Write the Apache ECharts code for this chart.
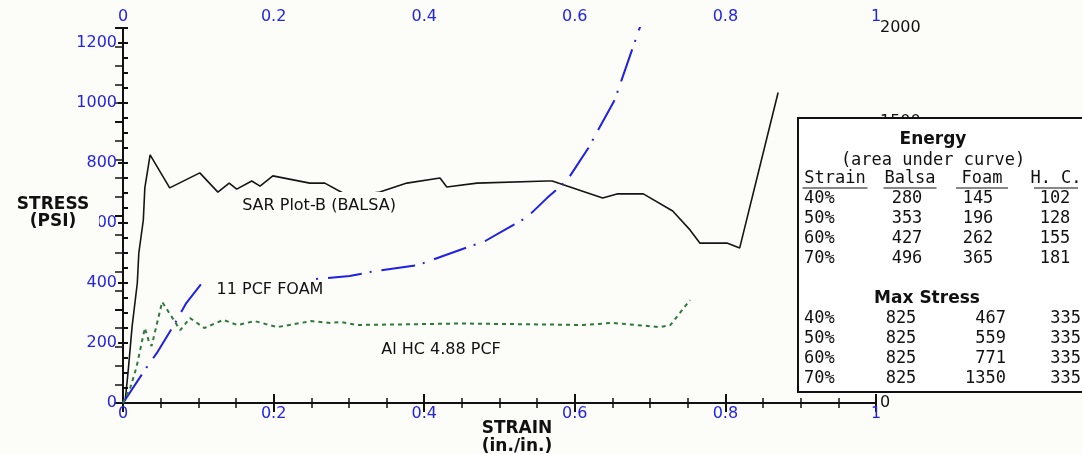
<!DOCTYPE html>
<html>
<head>
<meta charset="utf-8">
<script src="https://cdn.jsdelivr.net/npm/echarts@6/dist/echarts.min.js"></script>
<style>
  html, body { margin: 0; padding: 0; background: #fcfcf9; }
  #chart { width: 1082px; height: 454px; }
</style>
</head>
<body>
<div id="chart"></div>
<script>
// curves (strain in in./in., stress in PSI)
const balsaStrain = [0, 0.003, 0.007, 0.012, 0.019, 0.021, 0.027, 0.029, 0.036, 0.062, 0.102, 0.126, 0.141, 0.151, 0.171, 0.182, 0.199, 0.248, 0.268, 0.292, 0.326, 0.341, 0.377, 0.421, 0.430, 0.470, 0.563, 0.570, 0.637, 0.656, 0.691, 0.730, 0.753, 0.766, 0.802, 0.819, 0.870];
const balsaStress = [0, 10, 110, 253, 400, 500, 610, 717, 827, 717, 767, 703, 733, 713, 740, 723, 757, 733, 733, 700, 697, 703, 733, 750, 720, 733, 740, 740, 683, 697, 697, 640, 577, 533, 533, 517, 1035];

const foamStrain = [0, 0.029, 0.045, 0.070, 0.084, 0.105, 0.255, 0.301, 0.335, 0.392, 0.425, 0.481, 0.511, 0.537, 0.563, 0.590, 0.618, 0.631, 0.653, 0.676, 0.700];
const foamStress = [0, 110, 167, 270, 333, 400, 413, 423, 440, 460, 490, 540, 583, 620, 683, 743, 850, 910, 1010, 1177, 1350];

const hcStrain = [0, 0.010, 0.018, 0.029, 0.035, 0.038, 0.052, 0.064, 0.076, 0.089, 0.108, 0.133, 0.152, 0.175, 0.205, 0.250, 0.275, 0.290, 0.310, 0.370, 0.450, 0.550, 0.610, 0.650, 0.713, 0.727, 0.753];
const hcStress = [0, 53, 120, 250, 200, 190, 337, 290, 243, 283, 250, 277, 260, 273, 253, 273, 267, 270, 260, 262, 265, 262, 260, 267, 253, 260, 343];

// table in the box
const strainLevels = ['40%', '50%', '60%', '70%'];
const energyHeader = ['Strain', 'Balsa', 'Foam', 'H. C.'];
const energyBalsa = [280, 353, 427, 496];
const energyFoam = [145, 196, 262, 365];
const energyHC = [102, 128, 155, 181];
const maxBalsa = [825, 825, 825, 825];
const maxFoam = [467, 559, 771, 1350];
const maxHC = [335, 335, 335, 335];

const BLUE = '#2323e8';
const BG = '#fcfcf9';
const tableFont = '17px "DejaVu Sans Mono"';
const titleFont = 'bold 17px "DejaVu Sans"';

function pairs(xs, ys) {
  return xs.map((x, i) => [x, ys[i]]);
}

function txt(text, x, y, opts) {
  return {
    type: 'text',
    z: 100,
    style: Object.assign({
      text: text, x: x, y: y,
      fill: '#111',
      font: tableFont,
      textAlign: 'center',
      textVerticalAlign: 'middle'
    }, opts || {})
  };
}

function patch(x, y, w, h) {
  return { type: 'rect', z: 95, shape: { x: x, y: y, width: w, height: h }, style: { fill: BG } };
}

const chart = echarts.init(document.getElementById('chart'));

// box + table
const graphics = [
  { type: 'rect', z: 90, shape: { x: 798, y: 118, width: 300, height: 274 },
    style: { fill: '#fff', stroke: '#111', lineWidth: 2 } },
  txt('Energy', 933, 140, { font: titleFont }),
  txt('(area under curve)', 933, 161),
  txt('Max Stress', 927, 299, { font: titleFont })
];
const headerX = [835, 910, 982, 1056];
const headerW = [65, 53, 52, 44];
energyHeader.forEach((h, i) => {
  graphics.push(txt(h, headerX[i], 179));
  graphics.push({ type: 'line', z: 100,
    shape: { x1: headerX[i] - headerW[i] / 2, y1: 188, x2: headerX[i] + headerW[i] / 2, y2: 188 },
    style: { stroke: '#111', lineWidth: 1.2 } });
});
strainLevels.forEach((s, i) => {
  const ey = 199 + i * 20;
  graphics.push(txt(s, 804, ey, { textAlign: 'left' }));
  graphics.push(txt(String(energyBalsa[i]), 907, ey));
  graphics.push(txt(String(energyFoam[i]), 978, ey));
  graphics.push(txt(String(energyHC[i]), 1055, ey));
  const my = 319 + i * 19.7;
  graphics.push(txt(s, 804, my, { textAlign: 'left' }));
  graphics.push(txt(String(maxBalsa[i]), 901, my));
  graphics.push(txt(String(maxFoam[i]), 1006, my, { textAlign: 'right' }));
  graphics.push(txt(String(maxHC[i]), 1081, my, { textAlign: 'right' }));
});

// axis titles (the patch hides part of the 600 label like the original)
graphics.push(patch(4, 193, 95, 38));
graphics.push(txt('STRESS', 53, 205, { font: titleFont }));
graphics.push(txt('(PSI)', 53, 222, { font: titleFont }));
graphics.push(txt('STRAIN', 517, 429, { font: titleFont }));
graphics.push(txt('(in./in.)', 517, 447, { font: titleFont }));

// curve labels, with patches that hide the lines behind them
const labelFont = '16px "DejaVu Sans"';
graphics.push(patch(236, 192, 170, 22));
graphics.push(patch(204, 278, 110, 20));
graphics.push(txt('SAR Plot-B (BALSA)', 319, 206, { font: labelFont }));
graphics.push(txt('11 PCF FOAM', 270, 290, { font: labelFont }));
graphics.push(txt('Al HC 4.88 PCF', 441, 350, { font: labelFont }));

const xAxisBase = {
  type: 'value', min: 0, max: 1, interval: 0.2,
  axisLine: { lineStyle: { color: '#111', width: 2 } },
  axisTick: { inside: true, length: 9, lineStyle: { color: '#111', width: 2 } },
  minorTick: { show: true, splitNumber: 4, length: 5, lineStyle: { color: '#111', width: 1.5 } },
  splitLine: { show: false },
  axisLabel: { color: BLUE, fontFamily: 'DejaVu Sans', fontSize: 16, margin: 3 }
};

chart.setOption({
  backgroundColor: BG,
  animation: false,
  grid: { left: 123, right: 206, top: 28, bottom: 51 },
  xAxis: [
    Object.assign({}, xAxisBase, { position: 'bottom' }),
    Object.assign({}, xAxisBase, { position: 'top' })
  ],
  yAxis: [
    {
      type: 'value', position: 'left', min: 0, max: 1250, interval: 200,
      axisLine: { lineStyle: { color: '#111', width: 2 } },
      axisTick: { inside: false, length: 5, lineStyle: { color: '#111', width: 2 } },
      splitLine: { show: false },
      axisLabel: {
        color: BLUE, fontFamily: 'DejaVu Sans', fontSize: 16, margin: 6,
        formatter: (v) => (v % 200 === 0 ? String(v) : '')
      }
    },
    {
      type: 'value', position: 'right', min: 0, max: 2000, interval: 500,
      axisLine: { lineStyle: { color: '#111', width: 2 } },
      axisTick: { inside: true, length: 8, lineStyle: { color: '#111', width: 2 } },
      minorTick: { show: true, splitNumber: 5, length: 8, lineStyle: { color: '#111', width: 1.5 } },
      splitLine: { show: false },
      axisLabel: { color: '#111', fontFamily: 'DejaVu Sans', fontSize: 16, margin: 4, formatter: (v) => String(v) }
    },
    {
      // minor ticks on the stress axis, every 50 PSI
      type: 'value', position: 'left', min: 0, max: 1250, interval: 50,
      axisLine: { show: false },
      axisTick: { inside: true, length: 5, lineStyle: { color: '#111', width: 2 } },
      splitLine: { show: false },
      axisLabel: { show: false }
    }
  ],
  graphic: graphics,
  series: [
    {
      name: 'SAR Plot-B (BALSA)', type: 'line', xAxisIndex: 0, yAxisIndex: 0,
      data: pairs(balsaStrain, balsaStress),
      showSymbol: false, symbol: 'none',
      lineStyle: { color: '#151515', width: 1.6 }
    },
    {
      name: '11 PCF FOAM', type: 'line', xAxisIndex: 0, yAxisIndex: 0,
      data: pairs(foamStrain, foamStress),
      showSymbol: false, symbol: 'none',
      lineStyle: { color: '#1f1fe6', width: 2, type: [34, 8, 2, 10] }
    },
    {
      name: 'Al HC 4.88 PCF', type: 'line', xAxisIndex: 0, yAxisIndex: 0,
      data: pairs(hcStrain, hcStress),
      showSymbol: false, symbol: 'none',
      lineStyle: { color: '#2d7b3c', width: 2, type: [4, 4] }
    }
  ]
});
</script>
</body>
</html>
